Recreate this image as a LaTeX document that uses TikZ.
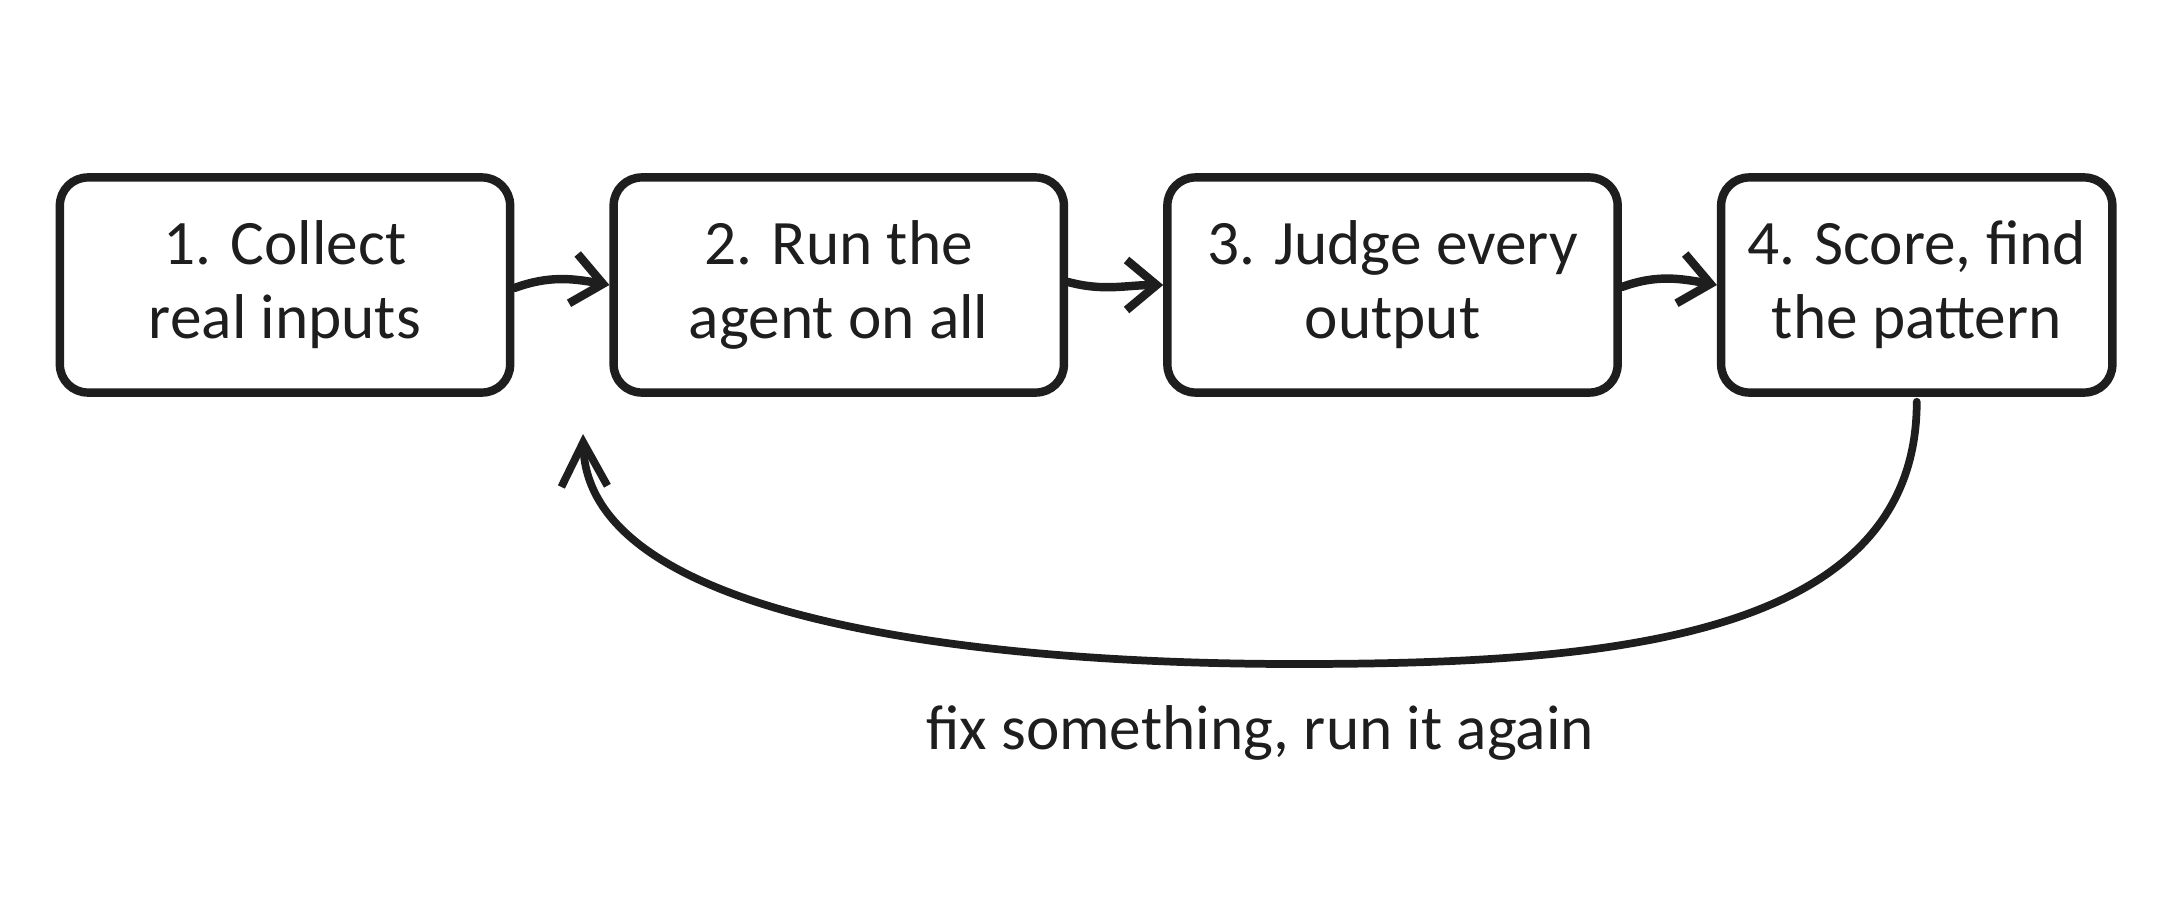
\documentclass[tikz,border=0pt]{standalone}
\usepackage{fontspec}
\setmainfont{Carlito}
\usetikzlibrary{positioning,arrows.meta}
\definecolor{ink}{HTML}{1E1E1E}

\begin{document}
\begin{tikzpicture}[x=0.01cm, y=-0.01cm, node distance=0.95cm, line width=2.4pt, ink,
    stage/.style = {draw, rounded corners=0.28cm, minimum width=4.5cm, minimum height=2.15cm, align=center, font=\fontsize{18}{21}\selectfont},
    hop/.style = {-{Straight Barb[length=3mm, width=5mm]}, line cap=round},
    backarrow/.style = {-{Straight Barb[length=4.4mm, width=4.6mm]}, line width=2.2pt, line cap=round}]
  \useasboundingbox (0,0) rectangle (2160,900);
  \node[stage] (1) at (285,285) {1. Collect\\real inputs};
  \node[stage] (2) [right=of 1] {2. Run the\\agent on all};
  \node[stage] (3) [right=of 2] {3. Judge every\\output};
  \node[stage, minimum width=3.91cm] (4) [right=of 3] {4. Score, find\\the pattern};
  \draw[hop] ([yshift=-0.03cm]1.east) to[out=20, in=170] (2.west);
  \draw[hop] ([yshift=0.03cm]2.east) to[out=-15, in=180] (3.west);
  \draw[hop] ([yshift=-0.02cm]3.east) to[out=20, in=170] (4.west);
  % back to the start
  \coordinate (low) at (1295,664);
  \coordinate (back) at (583,434);
  \draw[backarrow] ([yshift=-0.05cm]4.south) .. controls +(0,240) and +(305,0) .. (low) .. controls +(-300,0) and +(5,190) .. (back);
  \node (fix) at (1260,733) {\fontsize{18}{21}\selectfont fix something, run it again};
\end{tikzpicture}
\end{document}
